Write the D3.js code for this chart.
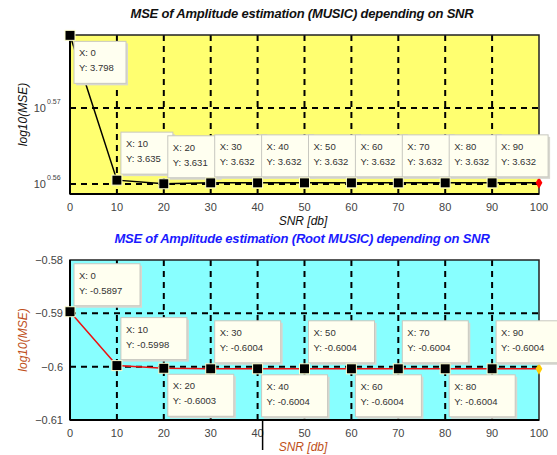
<!DOCTYPE html>
<html>
<head>
<meta charset="utf-8">
<script src="https://cdn.jsdelivr.net/npm/d3@7"></script>
<style>
  body { margin: 0; background: #fff; }
  text { font-family: "Liberation Sans", Arial, sans-serif; }
</style>
</head>
<body>
<div id="app"></div>
<script>
// data
const snr = [0, 10, 20, 30, 40, 50, 60, 70, 80, 90, 100];
const mseMusic = [3.798, 3.635, 3.631, 3.632, 3.632, 3.632, 3.632, 3.632, 3.632, 3.632, 3.632];
const mseRoot = [-0.5897, -0.5998, -0.6003, -0.6004, -0.6004, -0.6004, -0.6004, -0.6004, -0.6004, -0.6004, -0.6004];
const tipLabelsMusic = ["3.798", "3.635", "3.631", "3.632", "3.632", "3.632", "3.632", "3.632", "3.632", "3.632"];
const tipLabelsRoot = ["-0.5897", "-0.5998", "-0.6003", "-0.6004", "-0.6004", "-0.6004", "-0.6004", "-0.6004", "-0.6004", "-0.6004"];
const xTicks = [0, 10, 20, 30, 40, 50, 60, 70, 80, 90, 100];
const logTicks = [0.56, 0.57];
const rootTicks = [-0.58, -0.59, -0.6, -0.61];

const width = 557, height = 455;
const left = 70, right = 539;

const svg = d3.select("#app").append("svg")
  .attr("width", width)
  .attr("height", height);

const x = d3.scaleLinear().domain([0, 100]).range([left, right]);

// ---------- top panel (MUSIC, log y) ----------
const top1 = 35, bot1 = 194;
const y1 = d3.scaleLog()
  .domain([Math.pow(10, 0.55868), Math.pow(10, 0.5796)])
  .range([bot1, top1]);

// ---------- bottom panel (Root MUSIC) ----------
const top2 = 260, bot2 = 420;
const y2 = d3.scaleLinear().domain([-0.61, -0.58]).range([bot2, top2]);

const drawPanel = (cfg) => {
  const g = svg.append("g");

  g.append("rect")
    .attr("x", left).attr("y", cfg.top)
    .attr("width", right - left).attr("height", cfg.bot - cfg.top)
    .attr("fill", cfg.bg);

  // grid
  g.selectAll(".vgrid").data(xTicks.slice(1, -1)).join("line")
    .attr("x1", d => x(d)).attr("x2", d => x(d))
    .attr("y1", cfg.top).attr("y2", cfg.bot)
    .attr("stroke", "#000").attr("stroke-width", 2)
    .attr("stroke-dasharray", "6,5");
  g.selectAll(".hgrid").data(cfg.gridY).join("line")
    .attr("x1", left).attr("x2", right)
    .attr("y1", d => cfg.y(d)).attr("y2", d => cfg.y(d))
    .attr("stroke", "#000").attr("stroke-width", 2)
    .attr("stroke-dasharray", "6,5");

  // line
  const line = d3.line().x((d, i) => x(snr[i])).y(d => cfg.y(d));
  g.append("path")
    .datum(cfg.values)
    .attr("d", line)
    .attr("fill", "none")
    .attr("stroke", cfg.lineColor)
    .attr("stroke-width", 1.5);

  // box
  g.append("rect")
    .attr("x", left).attr("y", cfg.top)
    .attr("width", right - left).attr("height", cfg.bot - cfg.top)
    .attr("fill", "none").attr("stroke", "#222").attr("stroke-width", 1.5);
  g.append("line")
    .attr("x1", left).attr("x2", right).attr("y1", cfg.bot).attr("y2", cfg.bot)
    .attr("stroke", "#000").attr("stroke-width", 2);
  g.append("line")
    .attr("x1", left).attr("x2", left).attr("y1", cfg.top).attr("y2", cfg.bot)
    .attr("stroke", "#000").attr("stroke-width", 2);

  // x tick labels
  g.selectAll(".xt").data(xTicks).join("text")
    .attr("x", d => x(d)).attr("y", cfg.bot + 17)
    .attr("text-anchor", "middle")
    .attr("font-size", 11).attr("fill", "#444")
    .text(d => d);

  // x label
  g.append("text")
    .attr("x", 303).attr("y", cfg.bot + 31)
    .attr("text-anchor", "middle")
    .attr("font-size", 12).attr("font-style", "italic")
    .attr("fill", cfg.labelColor)
    .text("SNR [db]");

  // y label
  g.append("text")
    .attr("transform", `translate(${cfg.ylabX},${(cfg.top + cfg.bot) / 2}) rotate(-90)`)
    .attr("text-anchor", "middle")
    .attr("font-size", 12).attr("font-style", "italic")
    .attr("fill", cfg.labelColor)
    .text("log10(MSE)");

  // title
  g.append("text")
    .attr("x", 302).attr("y", cfg.top - 17)
    .attr("text-anchor", "middle")
    .attr("font-size", 13).attr("font-style", "italic").attr("font-weight", "bold")
    .attr("fill", cfg.titleColor)
    .attr("letter-spacing", -0.2)
    .text(cfg.title);

  return g;
};

const tips = (g, cfg) => {
  // end marker
  g.append("path")
    .attr("d", d3.symbol(d3.symbolDiamond, 40)())
    .attr("transform", `translate(${x(100)},${cfg.y(cfg.values[10])})`)
    .attr("fill", cfg.endColor);

  const items = cfg.labels.map((lab, i) => ({ i, lab }));
  const boxes = g.selectAll(".tip").data(items).join("g");
  boxes.each(function (d) {
    const px = x(snr[d.i]), py = cfg.y(cfg.values[d.i]);
    const below = cfg.below(d.i);
    const bx = px + 4;
    const by = below ? py + 6 : py - 6 - cfg.boxH;
    const tg = d3.select(this);
    tg.append("rect")
      .attr("x", bx + 2).attr("y", by + 2)
      .attr("width", cfg.boxW).attr("height", cfg.boxH)
      .attr("fill", "#d8d8d0");
    tg.append("rect")
      .attr("x", bx).attr("y", by)
      .attr("width", cfg.boxW).attr("height", cfg.boxH)
      .attr("fill", "#fffff0").attr("stroke", "#c8c8c0");
    tg.append("text")
      .attr("x", bx + 5).attr("y", by + 15)
      .attr("font-size", 9.5).attr("fill", "#333")
      .text("X: " + snr[d.i]);
    tg.append("text")
      .attr("x", bx + 5).attr("y", by + 30)
      .attr("font-size", 9.5).attr("fill", "#333")
      .text("Y: " + d.lab);
  });

  // markers
  g.selectAll(".mk").data(items).join("rect")
    .attr("x", d => x(snr[d.i]) - 5)
    .attr("y", d => cfg.y(cfg.values[d.i]) - 5)
    .attr("width", 10).attr("height", 10)
    .attr("fill", "#000").attr("stroke", "#ffffd0").attr("stroke-width", 1);
};

const cfgTop = {
  top: top1, bot: bot1, y: y1, bg: "#ffff70",
  gridY: logTicks.map(t => Math.pow(10, t)),
  values: mseMusic, lineColor: "#000",
  labelColor: "#111", titleColor: "#111", ylabX: 27,
  title: "MSE of Amplitude estimation (MUSIC) depending on SNR",
  labels: tipLabelsMusic, endColor: "#ff0000",
  boxW: 52, boxH: 42,
  below: i => i === 0
};
const gTop = drawPanel(cfgTop);

// log tick labels 10^0.57 etc
logTicks.forEach(t => {
  const yy = y1(Math.pow(10, t));
  gTop.append("text")
    .attr("x", 46).attr("y", yy + 4)
    .attr("text-anchor", "end")
    .attr("font-size", 11).attr("fill", "#444")
    .text("10");
  gTop.append("text")
    .attr("x", 47).attr("y", yy - 4)
    .attr("font-size", 7).attr("fill", "#444")
    .text(t.toFixed(2));
});
tips(gTop, cfgTop);

const cfgBot = {
  top: top2, bot: bot2, y: y2, bg: "#88ffff",
  gridY: [-0.59, -0.6],
  values: mseRoot, lineColor: "#ee1111",
  labelColor: "#c0501a", titleColor: "#1a1aff", ylabX: 27,
  title: "MSE of Amplitude estimation (Root MUSIC) depending on SNR",
  labels: tipLabelsRoot, endColor: "#ffcc00",
  boxW: 66, boxH: 42,
  below: i => i >= 2 && i % 2 === 0
};
const gBot = drawPanel(cfgBot);
gBot.selectAll(".yt").data(rootTicks).join("text")
  .attr("x", 63).attr("y", d => y2(d) + 4)
  .attr("text-anchor", "end")
  .attr("font-size", 11).attr("fill", "#444")
  .text(d => d3.format("")(d));
tips(gBot, cfgBot);

// stray cursor line below the lower axes
gBot.append("line")
  .attr("x1", x(40) + 5).attr("x2", x(40) + 5)
  .attr("y1", bot2).attr("y2", bot2 + 30)
  .attr("stroke", "#000").attr("stroke-width", 1.5);
</script>
</body>
</html>
